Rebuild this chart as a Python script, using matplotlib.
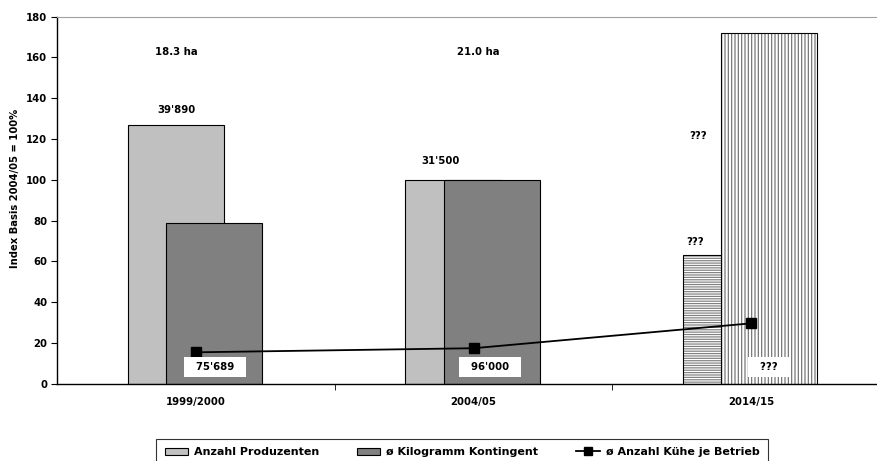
import numpy as np
import matplotlib
matplotlib.use('Agg')
import matplotlib.pyplot as plt
from matplotlib.patches import Patch
from matplotlib.lines import Line2D

plt.rcParams['font.family'] = ['DejaVu Sans']
plt.rcParams['font.weight'] = 'bold'
plt.rcParams['font.size'] = 7.3
plt.rcParams['hatch.linewidth'] = 0.85

labels = ['1999/2000', '2004/05', '2014/15']
produzenten = [127, 100, 63]
kontingent = [79, 100, 172]
kuehe = [15.4, 17.4, 29.6]

ha_labels = ["18.3 ha", "21.0 ha"]
prod_labels = ["39'890", "31'500", "???"]
kont_labels = ["75'689", "96'000", "???"]
kont_top_label = "???"

fig = plt.figure(figsize=(8.77, 4.61), dpi=100)
ax = fig.add_axes([57/877, 1 - 383.7/461, 820/877, 367/461])

ind = np.arange(len(labels))
width = 0.346
off1, off2 = -0.073, 0.065

# light bars (last one hatched horizontally)
for i in ind:
    if i < 2:
        ax.bar(ind[i] + off1, produzenten[i], width, color='#c0c0c0', edgecolor='black', linewidth=0.8)
    else:
        ax.bar(ind[i] + off1, produzenten[i], width, color='white', edgecolor='#808080', linewidth=0, hatch='-' * 7)
        ax.bar(ind[i] + off1, produzenten[i], width, fill=False, edgecolor='black', linewidth=0.8)
# dark bars (last one hatched vertically)
for i in ind:
    if i < 2:
        ax.bar(ind[i] + off2, kontingent[i], width, color='#808080', edgecolor='black', linewidth=0.8)
    else:
        ax.bar(ind[i] + off2, kontingent[i], width, color='white', edgecolor='#707070', linewidth=0, hatch='|' * 5)
        ax.bar(ind[i] + off2, kontingent[i], width, fill=False, edgecolor='black', linewidth=0.8)

ax.plot(ind, kuehe, color='black', marker='s', markersize=6.5, linewidth=1.3, zorder=5)

# annotations
ax.text(-0.072, 162.6, ha_labels[0], ha='center', va='center')
ax.text(1.018, 162.6, ha_labels[1], ha='center', va='center')
ax.text(-0.072, 134.2, prod_labels[0], ha='center', va='center')
ax.text(0.883, 109.4, prod_labels[1], ha='center', va='center')
ax.text(1.798, 69.5, prod_labels[2], ha='center', va='center')
ax.text(1.809, 121.4, kont_top_label, ha='center', va='center')
for i, x in enumerate([0.068, 1.058, 2.063]):
    ax.text(x, 8.2, '  ' + kont_labels[i] + '  ', ha='center', va='center', zorder=6,
            bbox=dict(facecolor='white', edgecolor='none', pad=3.5))

ax.set_xlim(-0.501, 2.454)
ax.set_ylim(0, 180)
ax.set_yticks(np.arange(0, 181, 20))
ax.set_xticks(ind)
ax.set_xticklabels(labels)
ax.set_xticks([0.5, 1.5], minor=True)
ax.tick_params(axis='x', which='major', length=0, pad=9.5)
ax.tick_params(axis='x', which='minor', length=4, direction='out')
ax.tick_params(axis='y', length=4, direction='out', pad=3)
ax.set_ylabel('Index Basis 2004/05 = 100%', fontweight='bold', fontsize=7.2)
ax.yaxis.set_label_coords(-0.045, 0.533)

ax.spines['top'].set_color('#a0a0a0')
ax.spines['right'].set_visible(False)
ax.spines['left'].set_linewidth(1)
ax.spines['bottom'].set_linewidth(1)

handles = [Patch(facecolor='#c0c0c0', edgecolor='black', linewidth=0.8),
           Patch(facecolor='#808080', edgecolor='black', linewidth=0.8),
           Line2D([0], [0], color='black', marker='s', markersize=6, linewidth=1.3)]
names = ['Anzahl Produzenten', 'ø Kilogramm Kontingent', 'ø Anzahl Kühe je Betrieb']
leg = fig.legend(handles, names, loc='upper center', bbox_to_anchor=(462/877, 1 - 439/461),
                 ncol=3, fancybox=False, frameon=True, edgecolor='black', fontsize=8,
                 handlelength=2.1, handleheight=0.7, columnspacing=3.4, borderpad=0.75,
                 handletextpad=0.55, borderaxespad=0)
leg.get_frame().set_linewidth(0.8)

fig.savefig('out.png', dpi=100)
